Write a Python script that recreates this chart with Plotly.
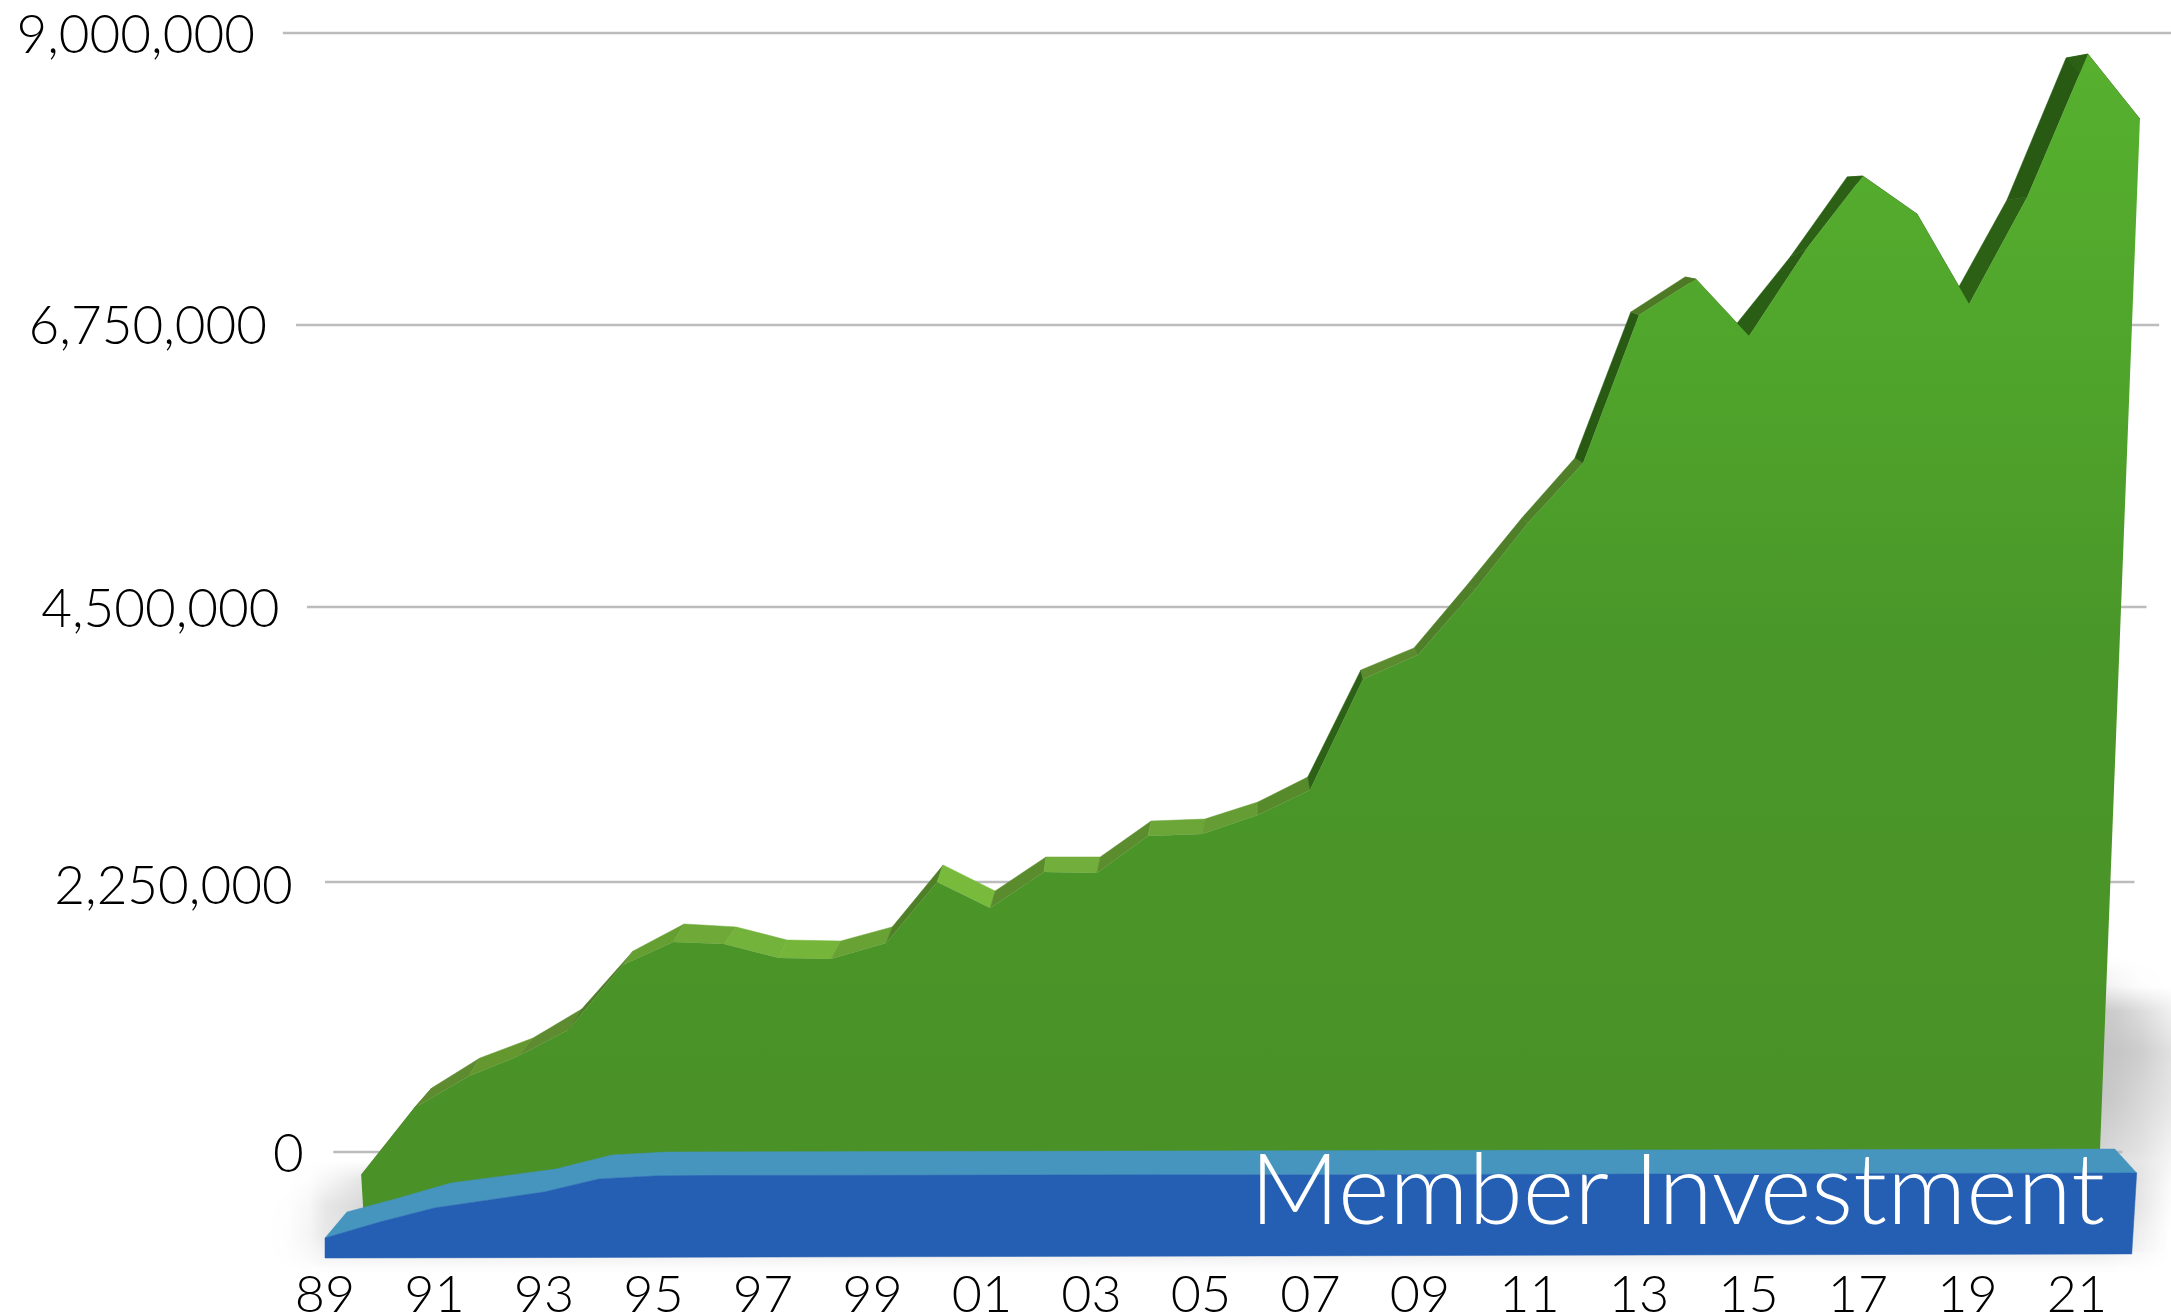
import plotly.graph_objects as go
import numpy as np

FONT = "Lato"
BASE_YEAR = 1989

# Tick labels
x_tick_years = list(range(1989, 2022, 2))
x_tick_labels = ["89","91","93","95","97","99","01","03","05","07","09","11","13","15","17","19","21"]
y_labels = ["9,000,000", "6,750,000", "4,500,000", "2,250,000", "0"]
# apparent heights of the (perspective) gridlines on the plotted scale
y_grid_levels = [9000000, 6652000, 4383000, 2172000, 0]
y_label_levels = [8947000, 6604000, 4327000, 2100000, -56000]
y_grid_start = [-0.77, -0.53, -0.33, 0.0, 0.15]
y_grid_end = [33.72, 33.5, 33.27, 33.05, 32.83]
y_label_end = [-1.28, -1.06, -0.83, -0.59, -0.39]

# Total value series: front face of the ribbon
front_offset = [0.66,1.63,2.63,3.53,4.44,5.44,6.36,7.29,8.29,9.24,10.25,11.18,12.15,13.13,14.10,15.03,16.02,
                17.04,17.99,18.96,19.96,21.0,21.97,22.98,24.0,25.04,26.01,27.07,28.09,29.08,30.03,31.09,32.2,33.15]
total_front = [-185,354,611,772,981,1504,1689,1673,1560,1552,1681,2172,1962,2252,2244,2542,2558,
               2710,2912,3804,3997,4520,5059,5542,6732,7021,6563,7271,7850,7544,6820,7681,8831,8308]
# Total value series: rear edge of the ribbon
back_offset = [1.10,1.95,2.83,3.80,4.69,5.63,6.56,7.51,8.44,9.42,10.36,11.29,12.24,13.17,14.16,15.09,16.07,
               17.04,17.95,18.92,19.89,20.86,21.86,22.83,23.85,24.84,25.72,26.76,27.80,28.77,29.70,30.72,31.8,32.75]
total_back = [32,515,756,917,1150,1617,1834,1810,1705,1697,1810,2308,2099,2373,2373,2662,2678,
              2815,3016,3877,4054,4560,5099,5582,6756,7038,6627,7198,7842,7560,6845,7657,8799,8300]
side_colors = ["#4d7d24","#5e8a30","#64982f","#5e8a30","#4d7d24","#659f32","#6fa937","#74b33b","#74b53a","#68a234",
               "#4f7f26","#78bb3c","#5a8b2d","#72ae3b","#5b8c2d","#6da638","#659c33","#578a2b","#2d6216","#5c8a2f",
               "#4f7f28","#4f7f28","#4f7f28","#285a14","#4e7a25","#4e7a25","#2a5e14","#2b6015","#2b6015","#2b6015",
               "#2b6015","#285a14","#2b6015"]
# Where the green face meets / disappears behind the blue ribbon
green_base_offset = [32.42, 6.26, 5.24, 4.22, 3.27, 2.30, 1.35, 0.70]
green_base = [16, -30, -60, -170, -225, -285, -400, -470]

# Member investment series
blue_front_offset = [0,1,2,3,4,5,6,7,8,9,10,11,12,13,14,15,16,17,18,19,20,21,22,23,24,25,26,27,28,29,30,31,32,33.09]
member_front = [-692,-563,-450,-386,-322,-217,-193,-189,-189,-189,-189,-189,-189,-188,-187,-186,-185,
                -184,-183,-182,-181,-180,-179,-178,-177,-176,-175,-174,-173,-172,-172,-171,-170,-169]
member_bottom_offset = [33.0, 0.0]
member_bottom = [-820, -853]
blue_back_offset = [0.40,1.35,2.30,3.27,4.22,5.24,6.26,32.69]
member_back = [-483,-370,-249,-193,-137,-24,0,24]

# Soft shadows (darkness 0-255)
shade_right_x = [32.33, 32.69, 33.15, 33.72]
shade_right_y = [1584000, 1343000, 1142000, 820000, 418000, 16000, -265000, -627000]
shade_right_z = [[0,0,0,0],[20,10,2,0],[55,50,35,15],[60,58,50,30],[58,52,40,25],[45,38,30,12],[30,20,12,4],[8,8,3,0]]
shade_low_x = [-1.10,-0.70,-0.30,0,0.73,32.42,33.72]
shade_low_y = [-64000,-225000,-426000,-668000,-853000,-933000]
shade_low_z = [[0,0,0,0,0,0,0],[0,0,2,8,28,30,0],[0,1,8,24,40,40,0],[0,2,10,24,30,30,0],[0,1,5,10,12,12,0],[0,0,1,2,2,2,0]]

PANEL_TITLE = "Member Investment"
title_x = 32.51
title_y = -380000

def yrs(a):
    return (BASE_YEAR + np.array(a, dtype=float)).tolist()

def k(a):
    return (np.array(a, dtype=float) * 1000).tolist()

fig = go.Figure()
alpha = [[0, "rgba(0,0,0,0)"], [1, "rgba(0,0,0,1)"]]
for sx, sy, sz in [(shade_right_x, shade_right_y, shade_right_z), (shade_low_x, shade_low_y, shade_low_z)]:
    fig.add_trace(go.Heatmap(x=yrs(sx), y=sy, z=sz, zmin=0, zmax=255, colorscale=alpha, zsmooth="best",
                             showscale=False, hoverinfo="skip"))

for lvl, a, b in zip(y_grid_levels, y_grid_start, y_grid_end):
    fig.add_trace(go.Scatter(x=yrs([a, b]), y=[lvl, lvl], mode="lines", line=dict(color="#bcbcbc", width=2.6),
                             hoverinfo="skip"))

fx, fy, bx, by = yrs(front_offset), k(total_front), yrs(back_offset), k(total_back)
for i, c in enumerate(side_colors):
    fig.add_trace(go.Scatter(x=[bx[i], bx[i+1], fx[i+1], fx[i], bx[i]], y=[by[i], by[i+1], fy[i+1], fy[i], by[i]],
                             mode="lines", fill="toself", fillcolor=c, line=dict(color=c, width=0.5), hoverinfo="skip"))

fig.add_trace(go.Scatter(x=fx + yrs(green_base_offset) + fx[:1], y=fy + k(green_base) + fy[:1], mode="lines",
                         fill="toself", line=dict(width=0, color="rgba(0,0,0,0)"),
                         fillgradient=dict(type="vertical", colorscale=[[0, "#4a9127"], [0.5, "#4a9729"], [0.72, "#4fa42b"], [1, "#57b02e"]]),
                         hoverinfo="skip"))

# Blue ribbon: top face, then front face
bbx, bby = yrs(blue_back_offset), k(member_back)
mfx, mfy = yrs(blue_front_offset), k(member_front)
fig.add_trace(go.Scatter(x=bbx + mfx[::-1] + bbx[:1], y=bby + mfy[::-1] + bby[:1], mode="lines", fill="toself",
                         fillcolor="#4595bf", line=dict(color="#4595bf", width=0.5), hoverinfo="skip"))
fig.add_trace(go.Scatter(x=mfx + yrs(member_bottom_offset) + mfx[:1], y=mfy + k(member_bottom) + mfy[:1], mode="lines", fill="toself",
                         fillcolor="#245fb3", line=dict(color="#245fb3", width=0.5), hoverinfo="skip"))

fig.add_trace(go.Scatter(x=yrs(y_label_end), y=y_label_levels, mode="text", text=y_labels, textposition="middle left",
                         textfont=dict(family=FONT, size=53, color="#000000", weight=300), hoverinfo="skip"))
fig.add_trace(go.Scatter(x=yrs([title_x]), y=[title_y], mode="text", text=[PANEL_TITLE], textposition="middle left",
                         textfont=dict(family=FONT, size=98.5, color="#ffffff", weight=300), hoverinfo="skip"))

PX_PER_YEAR = 54.75
x0 = BASE_YEAR - 325 / PX_PER_YEAR
x1 = x0 + 2171 / PX_PER_YEAR
B = 1275
PX_PER_UNIT = 124.33e-6
fig.update_layout(
    width=2171, height=1316, showlegend=False, paper_bgcolor="#ffffff", plot_bgcolor="rgba(0,0,0,0)",
    margin=dict(l=0, r=0, t=0, b=1316 - B, pad=0),
    font=dict(family=FONT),
    xaxis=dict(range=[x0, x1], tickmode="array", tickvals=x_tick_years, ticktext=x_tick_labels, showgrid=False,
               zeroline=False, showline=False, ticks="", tickangle=0, automargin=False, ticklabelstandoff=-16,
               tickfont=dict(family=FONT, size=52, color="#000000", weight=300)),
    yaxis=dict(range=[(1152 - B) / PX_PER_UNIT, 1152 / PX_PER_UNIT], showgrid=False, zeroline=False, showline=False,
               showticklabels=False, ticks=""),
)
fig.write_html("out.html", config={"displayModeBar": False},
               post_script="document.body.style.margin='0';document.documentElement.style.overflow='hidden';")
